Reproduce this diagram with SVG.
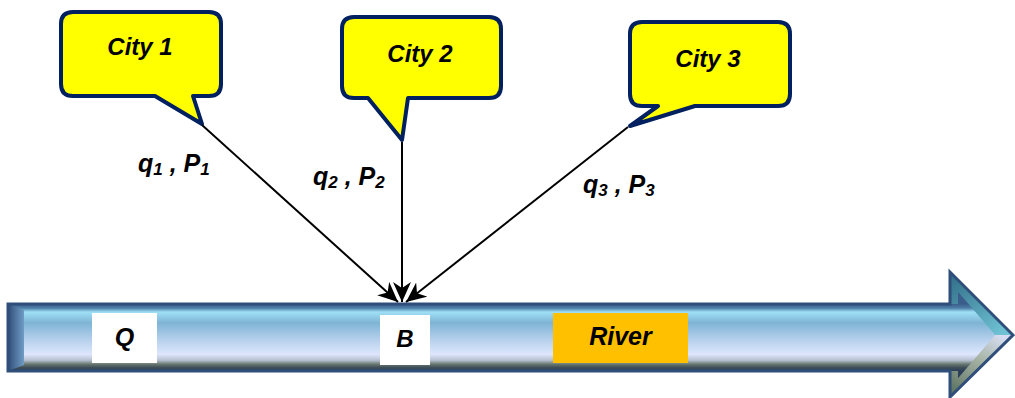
<svg xmlns="http://www.w3.org/2000/svg" width="1015" height="398" viewBox="0 0 1015 398">
<defs>
<style>
.lbl{font-family:"Liberation Sans",Arial,sans-serif;font-weight:bold;font-style:italic;fill:#000}
.city{stroke:#002060;stroke-width:4;fill:#ffff00;stroke-linejoin:round}
.conn{stroke:#000;stroke-width:2;fill:none;marker-end:url(#ah)}
</style>
<marker id="ah" markerUnits="userSpaceOnUse" markerWidth="22" markerHeight="18" viewBox="0 0 22 18" refX="20" refY="9" orient="auto">
<path d="M0,0 L20,9 L0,18 L6,9 Z" fill="#000"/>
</marker>
<linearGradient id="body" x1="0" y1="304" x2="0" y2="371" gradientUnits="userSpaceOnUse">
<stop offset="0" stop-color="#3b5d8c"/>
<stop offset="0.06" stop-color="#4c7ea6"/>
<stop offset="0.12" stop-color="#9fe0f6"/>
<stop offset="0.28" stop-color="#7fb4d4"/>
<stop offset="0.55" stop-color="#b9d2ee"/>
<stop offset="0.75" stop-color="#dde6fd"/>
<stop offset="0.84" stop-color="#b6c0d0"/>
<stop offset="0.9" stop-color="#66766e"/>
<stop offset="0.95" stop-color="#3d4d58"/>
<stop offset="1" stop-color="#2c3e5a"/>
</linearGradient>
<linearGradient id="leftBevel" x1="8" y1="0" x2="24" y2="0" gradientUnits="userSpaceOnUse">
<stop offset="0" stop-color="#2f4d78"/>
<stop offset="1" stop-color="#6f9cc4"/>
</linearGradient>
<linearGradient id="headTop" x1="950" y1="272" x2="1000" y2="335" gradientUnits="userSpaceOnUse">
<stop offset="0" stop-color="#2f6b86"/>
<stop offset="1" stop-color="#6fc2d4"/>
</linearGradient>
<linearGradient id="headBot" x1="955" y1="395" x2="1000" y2="335" gradientUnits="userSpaceOnUse">
<stop offset="0" stop-color="#5d7260"/>
<stop offset="0.6" stop-color="#a9b6a8"/>
<stop offset="1" stop-color="#d6ddf2"/>
</linearGradient>
</defs>

<g id="river-arrow">
<path d="M8,304 H950 V272 L1013,335 L950,397 V371 H8 Z" fill="url(#body)"/>
<path d="M8,304 L24,310 V365 L8,371 Z" fill="url(#leftBevel)"/>
<path d="M950,272 L1013,335 L995,335 L958,292 V304 H950 Z" fill="url(#headTop)"/>
<path d="M950,397 L1013,335 L995,335 L958,378 V371 H950 Z" fill="url(#headBot)"/>
<path d="M958,292 L995,335 L958,378 Z" fill="url(#body)" opacity="0.85"/>
<path d="M8,304 H950 V272 L1013,335 L950,397 V371 H8 Z" fill="none" stroke="#2f4f7a" stroke-width="3" stroke-linejoin="miter"/>
</g>

<g id="box-Q">
<rect x="92" y="313" width="65" height="50" fill="#fff"/>
<text class="lbl" x="124.5" y="346" font-size="25" text-anchor="middle">Q</text>
</g>
<g id="box-B">
<rect x="380" y="315" width="50" height="50" fill="#fff"/>
<text class="lbl" x="405" y="347" font-size="24" text-anchor="middle">B</text>
</g>
<g id="box-River">
<rect x="553" y="313" width="135" height="50" fill="#ffc000"/>
<text class="lbl" x="620.5" y="345" font-size="25" text-anchor="middle">River</text>
</g>

<g id="city1">
<path class="city" d="M73,12 H209 Q221,12 221,24 V84 Q221,96 209,96 H193 L202,124 L155,96 H73 Q61,96 61,84 V24 Q61,12 73,12 Z"/>
<text class="lbl" x="140" y="55" font-size="24" text-anchor="middle">City 1</text>
</g>
<g id="city2">
<path class="city" d="M354,17 H489 Q501,17 501,29 V86 Q501,98 489,98 H408 L402,140 L368,98 H354 Q342,98 342,86 V29 Q342,17 354,17 Z"/>
<text class="lbl" x="420" y="62" font-size="24" text-anchor="middle">City 2</text>
</g>
<g id="city3">
<path class="city" d="M642,22 H778 Q790,22 790,34 V94 Q790,106 778,106 H695 L630,126 L658,106 H642 Q630,106 630,94 V34 Q630,22 642,22 Z"/>
<text class="lbl" x="708" y="67" font-size="24" text-anchor="middle">City 3</text>
</g>

<g id="connectors">
<line class="conn" x1="202" y1="125" x2="398" y2="302"/>
<line class="conn" x1="402" y1="142" x2="402" y2="302"/>
<line class="conn" x1="628" y1="127" x2="406" y2="302"/>
</g>

<g id="labels">
<text class="lbl" x="138" y="172" font-size="25">q<tspan font-size="17" dy="3">1</tspan><tspan dy="-3"> , P</tspan><tspan font-size="17" dy="3">1</tspan></text>
<text class="lbl" x="313" y="185" font-size="25">q<tspan font-size="17" dy="3">2</tspan><tspan dy="-3"> , P</tspan><tspan font-size="17" dy="3">2</tspan></text>
<text class="lbl" x="583" y="193" font-size="25">q<tspan font-size="17" dy="3">3</tspan><tspan dy="-3"> , P</tspan><tspan font-size="17" dy="3">3</tspan></text>
</g>
</svg>
